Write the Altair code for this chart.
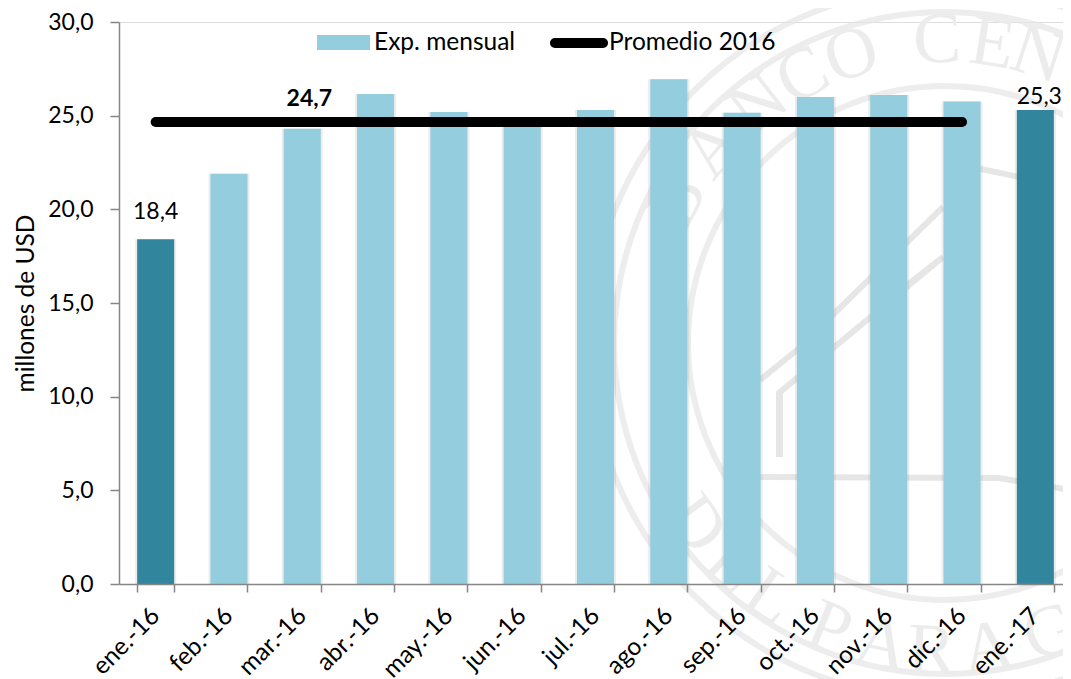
import math
import altair as alt
import pandas as pd

categories = ["ene.-16","feb.-16","mar.-16","abr.-16","may.-16","jun.-16","jul.-16","ago.-16","sep.-16","oct.-16","nov.-16","dic.-16","ene.-17"]
exports = [18.4,21.9,24.3,26.15,25.2,24.5,25.3,26.95,25.15,26.0,26.1,25.75,25.3]
dark_months = ["ene.-16","ene.-17"]
average = 24.66
avg_months = categories[:12]

FONT = "Lato"
BAR = "#94CDDE"
DARK = "#31859D"
MARK = "#E6E6E6"
W, H = 953, 562

# decorative seal (background watermark), in plot pixels
seal_cx, seal_cy = 826, 321
ring_radius = [257, 331, 356]
top_letters = list("BANCOCEN")
top_angles = [-62,-50,-38,-28,-18,-1.5,9,18]
bottom_letters = list("DELPARAG")
bottom_angles = [54,43.6,34.5,22,11.8,2.5,-8,-20]
bld_id = [0,0,0,1,1,2,2,2,2,3,3,3,4,4]
bld_x = [641,678,824,661,661,788,824,660,660,641,880,952,843,900]
bld_y = [358,328,185,371,435,263,235,371,435,455,456,468,143,155]

rows = []
for l, a in zip(top_letters, top_angles):
    t = math.radians(a)
    rows.append(dict(l=l, x=seal_cx+303*math.sin(t), y=seal_cy-303*math.cos(t), a=(a+360) % 360))
for l, a in zip(bottom_letters, bottom_angles):
    t = math.radians(a)
    rows.append(dict(l=l, x=seal_cx-308*math.sin(t), y=seal_cy+308*math.cos(t), a=(a+360) % 360))
letters = pd.DataFrame(rows)
rings = pd.DataFrame(dict(x=[seal_cx]*3, y=[seal_cy]*3, s=[(2*r)**2 for r in ring_radius]))
bld = pd.DataFrame(dict(i=bld_id, x=bld_x, y=bld_y, o=range(len(bld_id))))

df = pd.DataFrame(dict(cat=categories, v=exports, serie="Exp. mensual"))
light = df[~df.cat.isin(dark_months)]
dark = df[df.cat.isin(dark_months)]
avg = pd.DataFrame(dict(cat=avg_months, v=[average]*12, serie="Promedio 2016"))

xs = alt.Scale(domain=categories, paddingInner=0.495, paddingOuter=0.2475)
ys = alt.Scale(domain=[0, 30])
x = alt.X("cat:N", scale=xs, sort=None, title=None, axis=alt.Axis(
    labelAngle=315, labelAlign="right", labelBaseline="middle", labelFontSize=24.5, labelFont=FONT,
    labelColor="#000", labelPadding=20, labelOverlap=False, labelLimit=200, domainColor="#868686", domainWidth=1.5,
    tickColor="#868686", tickWidth=1.5, tickSize=8, tickBand="extent", grid=False, zindex=1))
y = alt.Y("v:Q", scale=ys, title="millones de USD", axis=alt.Axis(
    values=[0,5,10,15,20,25,30], labelExpr="replace(format(datum.value,'.1f'),'.',',')",
    labelFontSize=23, labelFont=FONT, labelColor="#000", labelPadding=17,
    domainColor="#868686", domainWidth=1.5, tickColor="#868686", tickWidth=1.5, tickSize=9, grid=False,
    titleFont=FONT, titleFontSize=24.5, titleFontWeight="normal", titleColor="#000", titlePadding=9, zindex=1))

ring_l = alt.Chart(rings).mark_point(shape="circle", filled=False, stroke=MARK, strokeWidth=6).encode(
    x=alt.X("x:Q", scale=None, axis=None), y=alt.Y("y:Q", scale=None, axis=None), size=alt.Size("s:Q", scale=None, legend=None))
bld_l = alt.Chart(bld).mark_line(stroke=MARK, strokeWidth=6).encode(
    x=alt.X("x:Q", scale=None, axis=None), y=alt.Y("y:Q", scale=None, axis=None), detail="i:N", order="o:Q")
let_l = alt.Chart(letters).mark_text(font="Liberation Serif", fontSize=72, color="#ECECEC", baseline="middle", align="center").encode(
    x=alt.X("x:Q", scale=None, axis=None), y=alt.Y("y:Q", scale=None, axis=None), angle=alt.Angle("a:Q", scale=None), text="l:N")

shadow = alt.Chart(df).mark_bar(size=41, color="#777777", opacity=0.14).encode(x=x, y=y)
bars = alt.Chart(light).mark_bar().encode(x=x, y=y, fill=alt.Fill("serie:N", scale=alt.Scale(domain=["Exp. mensual"], range=[BAR]), legend=alt.Legend(
    title=None, orient="none", legendX=198, legendY=-6, padding=0, symbolType="M-1,-0.283H1V0.283H-1Z", symbolSize=2809,
    labelFont=FONT, labelFontSize=24.5, labelColor="#000", labelOffset=4, symbolStrokeWidth=0, labelLimit=300)))
bars_dark = alt.Chart(dark).mark_bar(color=DARK).encode(x=x, y=y)
line = alt.Chart(avg).mark_line(strokeWidth=10, strokeCap="round").encode(x=x, y=y, stroke=alt.Stroke("serie:N", scale=alt.Scale(domain=["Promedio 2016"], range=["#000000"]), legend=alt.Legend(
    title=None, orient="none", legendX=431, legendY=-8, padding=0, symbolType="M-0.83,-0.17H0.83A0.17,0.17 0 0 1 0.83,0.17H-0.83A0.17,0.17 0 0 1 -0.83,-0.17Z",
    symbolSize=3364, symbolFillColor="#000", symbolStrokeWidth=0, labelFont=FONT, labelFontSize=24.5, labelColor="#000", labelOffset=1, labelLimit=300)))

def label(cat, val, txt, dy, dx=0, weight="normal"):
    d = pd.DataFrame(dict(cat=[cat], v=[val], t=[txt]))
    return alt.Chart(d).mark_text(font=FONT, fontSize=23, color="#000", fontWeight=weight, dy=dy, dx=dx, baseline="middle").encode(x=x, y=y, text="t:N")

chart = alt.layer(
    ring_l, bld_l, let_l, shadow, bars, bars_dark, line,
    label("ene.-16", 18.4, "18,4", -27),
    label("ene.-17", 25.3, "25,3", -13, 4),
    label("mar.-16", average, "24,7", -23, 7, "bold"),
).resolve_scale(x="shared", y="shared").properties(
    width=W, height=H,
    autosize=alt.AutoSizeParams(type="none"),
    padding={"left":111,"top":14,"right":-9,"bottom":95},
).configure_view(stroke=None).configure(background="#FFFFFF")

chart.save("out.html", embed_options={"renderer": "svg", "actions": False})
